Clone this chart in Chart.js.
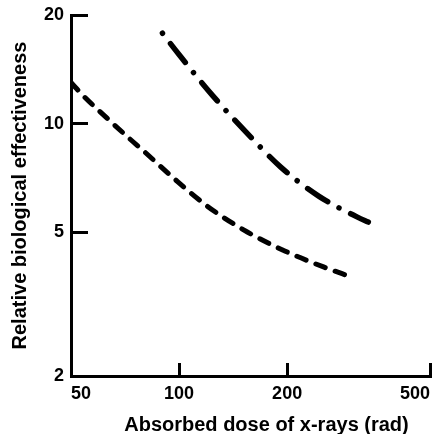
<!DOCTYPE html>
<html>
<head>
<meta charset="utf-8">
<script src="https://cdn.jsdelivr.net/npm/chart.js@4.4.1/dist/chart.umd.min.js"></script>
<style>
  html, body { margin: 0; padding: 0; background: #ffffff; }
  #wrap { width: 442px; height: 434px; }
</style>
</head>
<body>
<div id="wrap"><canvas id="c" width="442" height="434"></canvas></div>
<script>
// ---- data ----
const xTickValues = [50, 100, 200, 500];
const yTickValues = [2, 5, 10, 20];
const xTitle = 'Absorbed dose of x-rays (rad)';
const yTitle = 'Relative biological effectiveness';

// lower curve (dashed)
const dashedDose = [50, 54.3, 60.2, 72.4, 80.2, 97.1, 119.8, 151.7, 197, 252.6, 302];
const dashedRBE  = [13.0, 11.9, 10.8, 9.13, 8.35, 7.03, 5.91, 5.07, 4.44, 4.01, 3.76];

// upper curve (dash-dot)
const dashDotDose = [89.9, 100.2, 123.7, 153.7, 192, 244.8, 314, 336.6];
const dashDotRBE  = [17.8, 15.5, 12.0, 9.48, 7.58, 6.30, 5.51, 5.34];

const FONT = '"Liberation Sans", Arial, Helvetica, sans-serif';

const toPoints = (xs, ys) => xs.map((x, i) => ({ x: x, y: ys[i] }));

const zeroPad = (s) => { s.paddingTop = 0; s.paddingBottom = 0; s.paddingLeft = 0; s.paddingRight = 0; };

const xTitlePlugin = {
  id: 'xTitlePlugin',
  afterDraw(chart) {
    const ctx = chart.ctx;
    const a = chart.chartArea;
    ctx.save();
    ctx.font = 'bold 20px ' + FONT;
    ctx.fillStyle = '#000';
    ctx.textAlign = 'center';
    ctx.textBaseline = 'alphabetic';
    ctx.fillText(xTitle, (a.left + a.right) / 2 + 16, a.bottom + 55);
    ctx.restore();
  }
};

new Chart(document.getElementById('c'), {
  type: 'line',
  data: {
    datasets: [
      {
        data: toPoints(dashedDose, dashedRBE),
        borderColor: '#000',
        borderWidth: 5,
        borderDash: [10, 10.5],
        borderCapStyle: 'round',
        pointRadius: 0,
        fill: false,
        cubicInterpolationMode: 'monotone'
      },
      {
        data: toPoints(dashDotDose, dashDotRBE),
        borderColor: '#000',
        borderWidth: 5.5,
        borderDash: [0.01, 13, 24, 13],
        borderCapStyle: 'round',
        pointRadius: 0,
        fill: false,
        cubicInterpolationMode: 'monotone'
      }
    ]
  },
  options: {
    responsive: false,
    animation: false,
    devicePixelRatio: 1,
    layout: { padding: { top: 15, right: 12, left: 0, bottom: 0 }, autoPadding: false },
    plugins: { legend: { display: false }, tooltip: { enabled: false } },
    scales: {
      x: {
        type: 'logarithmic',
        position: 'bottom',
        min: 50,
        max: 500,
        afterBuildTicks: (s) => { s.ticks = xTickValues.map(v => ({ value: v })); },
        afterFit: (s) => { s.height = 58; zeroPad(s); },
        ticks: {
          autoSkip: false,
          maxRotation: 0,
          align: 'inner',
          padding: 20.5,
          color: '#000',
          font: { family: FONT, size: 18, weight: 'bold' },
          callback: (v) => String(v)
        },
        grid: { drawOnChartArea: false, tickLength: -13, color: '#000', lineWidth: 3 },
        border: { display: true, color: '#000', width: 3 }
      },
      y: {
        type: 'logarithmic',
        position: 'left',
        min: 2,
        max: 20,
        afterBuildTicks: (s) => { s.ticks = yTickValues.map(v => ({ value: v })); },
        afterFit: (s) => { s.width = 71; zeroPad(s); },
        ticks: {
          autoSkip: false,
          padding: 24,
          color: '#000',
          font: { family: FONT, size: 18, weight: 'bold' },
          callback: (v) => String(v)
        },
        grid: { drawOnChartArea: false, tickLength: -17, color: '#000', lineWidth: 3 },
        border: { display: true, color: '#000', width: 3 },
        title: {
          display: true,
          text: yTitle,
          color: '#000',
          font: { family: FONT, size: 20, weight: 'bold' },
          padding: { top: 8.5, bottom: 0 }
        }
      }
    }
  },
  plugins: [xTitlePlugin]
});
</script>
</body>
</html>
